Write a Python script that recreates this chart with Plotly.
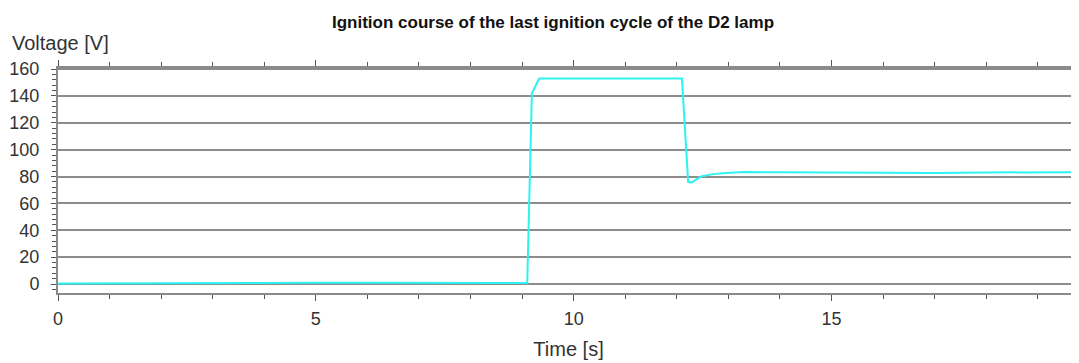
import plotly.graph_objects as go

time_s = [0.0, 1.0, 2.0, 3.0, 4.0, 5.0, 6.0, 7.0, 8.0, 9.0, 9.10, 9.19, 9.33, 10.0, 11.0, 12.0, 12.10,
          12.22, 12.28, 12.47, 12.7, 12.96, 13.3, 14.0, 15.0, 16.0, 17.0, 18.0, 19.0, 19.8]
voltage_v = [0.3, 0.5, 0.8, 0.8, 0.9, 0.9, 0.9, 0.8, 0.8, 0.8, 0.8, 142.0, 153.0, 153.0, 153.0, 153.0, 153.0,
             76.0, 75.5, 80.0, 81.8, 82.7, 83.3, 83.2, 82.9, 82.6, 82.7, 83.0, 83.2, 83.3]

title_text = "Ignition course of the last ignition cycle of the D2 lamp"
y_title = "Voltage [V]"
x_title = "Time [s]"

fig = go.Figure()
fig.add_trace(go.Scatter(x=time_s, y=voltage_v, mode="lines",
                         line=dict(color="#2ef2f2", width=2), showlegend=False))

# page body has an 8px default margin; compensate so the plot lands where the reference has it
fig.update_layout(
    width=1071, height=355,
    margin=dict(l=50, r=0, t=60, b=70, autoexpand=False),
    paper_bgcolor="white", plot_bgcolor="white",
    font=dict(family="Liberation Sans, Arial, sans-serif", size=18, color="#333333"),
    title=dict(text="<b>" + title_text + "</b>", x=(553 - 8) / 1071, xanchor="center", y=1 - 14 / 355,
               yref="container", yanchor="middle", font=dict(size=17, color="#111111")),
    annotations=[
        dict(text=y_title, xref="paper", yref="paper", x=0, y=1.0, xanchor="left", yanchor="bottom",
             xshift=-48, yshift=12, showarrow=False, font=dict(size=20, color="#333333")),
    ],
)
fig.update_xaxes(
    range=[0, 19.8], tickvals=[0, 5, 10, 15], ticktext=["0", "5", "10", "15"],
    showgrid=False, zeroline=False, showline=True, linecolor="#8a8a8a", linewidth=2, mirror="ticks",
    ticks="outside", ticklen=6, tickcolor="#555555", tickwidth=1, automargin=False,
    minor=dict(dtick=1, ticks="outside", ticklen=4, tickcolor="#555555", showgrid=False),
    title=dict(text=x_title, standoff=14, font=dict(size=20)),
    ticklabelstandoff=2,
)
fig.update_yaxes(
    range=[-6.7, 160.8], tickvals=[0, 20, 40, 60, 80, 100, 120, 140, 160],
    showgrid=True, gridcolor="#8c8c8c", gridwidth=1.5, zeroline=False, automargin=False,
    showline=True, linecolor="#8a8a8a", linewidth=2, mirror=True,
    ticks="outside", ticklen=5, tickcolor="#555555", tickwidth=1,
    minor=dict(dtick=4, ticks="outside", ticklen=4, tickcolor="#555555", showgrid=False),
    ticklabelstandoff=8,
)

fig.write_html("out.html")
